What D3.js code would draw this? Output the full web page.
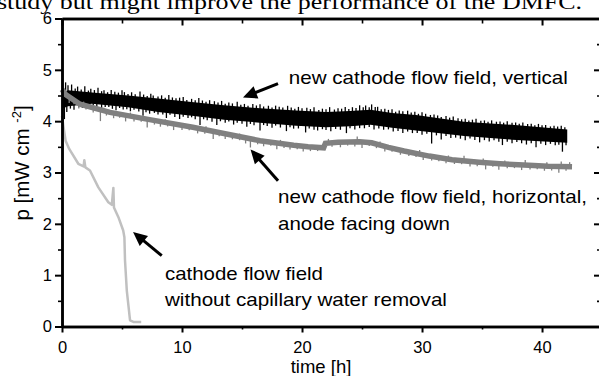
<!DOCTYPE html>
<html>
<head>
<meta charset="utf-8">
<script src="https://cdn.jsdelivr.net/npm/d3@7"></script>
<style>
  body { margin: 0; background: #fff; overflow: hidden; }
  svg { display: block; font-family: Arial, "Liberation Sans", sans-serif; }
</style>
</head>
<body>
<div id="container"></div>
<script>
/* CONSTANTS AND GLOBALS */
const width = 599,
  height = 376,
  margin = {top: 18.5, bottom: 49.5, left: 62, right: -1};

/* DATA */
// x / y ticks
const xTicks = [0, 10, 20, 30, 40],
  xMinor = [5, 15, 25, 35],
  yTicks = [0, 1, 2, 3, 4, 5, 6],
  yMinor = [0.5, 1.5, 2.5, 3.5, 4.5, 5.5];

// new cathode flow field, vertical (black, noisy band): core envelope
const blackT  = [0, 0.5, 2.5, 5.5, 8, 11, 13.5, 16.5, 19.5, 22, 24, 25.7, 27.5, 29.5, 33.5, 37.5, 42.1];
const blackHi = [4.54, 4.6, 4.56, 4.5, 4.44, 4.37, 4.31, 4.25, 4.21, 4.18, 4.2, 4.22, 4.16, 4.12, 3.99, 3.93, 3.84];
const blackLo = [4.24, 4.29, 4.34, 4.27, 4.18, 4.1, 4.03, 3.97, 3.91, 3.88, 3.9, 3.93, 3.87, 3.82, 3.71, 3.64, 3.58];
// noise spikes: [time, excursion beyond the envelope]
const blackUp = [[0.1,.08],[0.3,.18],[0.5,.1],[0.8,.12],[1.1,.05],[1.3,.09],[1.6,.04],[1.9,.11],[2.2,.03],[2.4,.07],
  [2.7,.05],[3.0,.1],[3.3,.04],[3.5,.06],[3.8,.03],[4.1,.08],[4.4,.05],[4.7,.04],[5.0,.09],[5.2,.06],[5.5,.03],
  [5.8,.07],[6.1,.04],[6.5,.1],[6.8,.05],[7.1,.03],[7.4,.08],[7.6,.05],[8.0,.04],[8.3,.07],[8.6,.03],[8.9,.09],
  [9.2,.05],[9.5,.04],[9.8,.06],[10.1,.08],[10.4,.03],[10.8,.06],[11.1,.04],[11.4,.09],[11.7,.05],[12.0,.03],
  [12.3,.07],[12.7,.06],[13.0,.04],[13.3,.08],[13.6,.03],[13.9,.06],[14.2,.05],[14.6,.09],[14.9,.04],[15.2,.06],
  [15.5,.03],[15.9,.07],[16.2,.05],[16.5,.08],[16.8,.04],[17.2,.06],[17.5,.03],[17.8,.07],[18.1,.05],[18.4,.04],
  [18.8,.08],[19.1,.05],[19.4,.03],[19.7,.07],[20.0,.05],[20.4,.06],[20.7,.04],[21.0,.08],[21.4,.03],[21.7,.06],
  [22.0,.05],[22.3,.09],[22.7,.04],[23.0,.06],[23.3,.05],[23.6,.08],[23.9,.04],[24.2,.07],[24.5,.05],[24.8,.1],
  [25.1,.06],[25.3,.09],[25.6,.05],[25.8,.11],[26.1,.07],[26.3,.08],[26.6,.04],[26.9,.06],[27.2,.05],[27.5,.07],
  [27.8,.03],[28.1,.06],[28.4,.05],[28.8,.07],[29.1,.04],[29.4,.06],[29.7,.03],[30.0,.07],[30.3,.05],[30.7,.04],
  [31.0,.06],[31.3,.05],[31.6,.03],[32.0,.06],[32.3,.04],[32.6,.07],[33.0,.05],[33.3,.04],[33.6,.06],[33.9,.03],
  [34.2,.05],[34.5,.07],[34.9,.04],[35.2,.05],[35.5,.03],[35.8,.06],[36.2,.04],[36.5,.05],[36.8,.03],[37.1,.06],
  [37.5,.04],[37.8,.05],[38.1,.03],[38.4,.06],[38.8,.04],[39.1,.05],[39.4,.03],[39.7,.06],[40.0,.04],[40.3,.05],
  [40.7,.03],[41.0,.05],[41.3,.04],[41.6,.06],[41.9,.04]];
const blackDown = [[0.2,.22],[0.4,.1],[0.7,.05],[1.0,.08],[1.4,.04],[1.7,.06],[2.0,.03],[2.3,.07],[2.6,.04],[2.9,.05],
  [3.3,.09],[3.6,.04],[3.9,.03],[4.2,.06],[4.5,.08],[4.8,.03],[5.1,.05],[5.4,.04],[5.7,.07],[6.0,.03],[6.4,.05],
  [6.75,.12],[7.0,.04],[7.3,.06],[7.7,.03],[8.0,.05],[8.4,.04],[8.7,.1],[9.0,.03],[9.4,.06],[9.8,.09],[10.1,.04],
  [10.5,.05],[10.8,.03],[11.1,.06],[11.5,.16],[11.8,.04],[12.1,.05],[12.5,.07],[12.9,.12],[13.2,.04],[13.6,.06],
  [13.9,.03],[14.3,.08],[14.6,.04],[15.0,.05],[15.4,.1],[15.7,.04],[16.0,.06],[16.5,.15],[16.8,.04],[17.1,.05],
  [17.5,.08],[17.8,.03],[18.2,.06],[18.7,.12],[19.0,.04],[19.3,.06],[19.7,.05],[20.3,.12],[20.6,.04],[21.0,.06],
  [21.3,.07],[21.7,.04],[22.0,.05],[22.4,.08],[22.8,.04],[23.2,.06],[23.7,.13],[24.0,.04],[24.4,.07],[24.8,.05],
  [25.2,.06],[25.6,.04],[26.0,.08],[26.4,.05],[26.8,.06],[27.2,.04],[27.6,.07],[28.0,.05],[28.4,.08],[28.8,.04],
  [29.2,.06],[29.6,.05],[30.0,.07],[30.4,.04],[30.8,.22],[31.2,.05],[31.6,.12],[32.0,.04],[32.4,.07],[32.8,.05],
  [33.2,.06],[33.6,.08],[34.0,.04],[34.4,.06],[34.8,.1],[35.2,.05],[35.6,.07],[36.0,.04],[36.4,.06],[36.7,.12],
  [37.1,.05],[37.5,.07],[37.9,.04],[38.3,.06],[38.7,.08],[39.1,.05],[39.5,.12],[39.9,.05],[40.3,.07],[40.7,.04],
  [41.1,.06],[41.4,.05],[41.7,.18],[42.0,.05]];

// new cathode flow field, horizontal, anode facing down (grey)
const grayT = [0, 0.3, 1.5, 4, 7.3, 10.9, 13.7, 16.5, 19.3, 20.5, 21.8, 21.95, 23, 24.8, 25.8, 27.2, 28.5, 30.6, 32.5, 34.75, 36.5, 38.9, 40.5, 42.5];
const grayP = [4.62, 4.52, 4.33, 4.17, 4.03, 3.88, 3.75, 3.62, 3.53, 3.5, 3.48, 3.57, 3.59, 3.6, 3.58, 3.49, 3.42, 3.32, 3.25, 3.2, 3.17, 3.14, 3.12, 3.11];
// noise spikes: [time, excursion from the line]
const grayDown = [[0.6,.12],[1.0,.08],[1.4,.1],[2.0,.07],[2.6,.09],[3.2,.22],[3.7,.08],[4.3,.1],[4.8,.07],[5.3,.12],
  [6.0,.09],[6.6,.07],[7.1,.16],[7.7,.08],[8.2,.1],[8.8,.07],[9.3,.12],[10.0,.09],[10.6,.07],[11.3,.1],[11.9,.08],
  [12.6,.15],[13.1,.07],[13.6,.1],[14.2,.08],[14.8,.07],[15.3,.11],[15.7,.17],[16.3,.08],[16.8,.1],[17.4,.07],
  [17.9,.12],[18.5,.08],[19.0,.09],[19.6,.07],[20.1,.1],[20.7,.08],[21.3,.07],[22.5,.08],[23.2,.1],[23.8,.07],
  [24.4,.09],[25.0,.12],[25.6,.07],[26.2,.08],[26.9,.1],[27.5,.07],[28.2,.09],[28.9,.08],[29.5,.07],[30.1,.1],
  [30.8,.08],[31.4,.07],[32.0,.09],[32.7,.08],[33.3,.07],[34.0,.1],[34.6,.08],[35.3,.13],[35.9,.07],[36.4,.12],
  [37.1,.08],[37.7,.07],[38.3,.1],[39.0,.08],[39.6,.07],[40.2,.09],[40.8,.08],[41.4,.12],[42.0,.08]];
const grayUp = [[0.05,.23],[1.8,.07],[3.5,.06],[5.7,.07],[8.6,.06],[12.0,.07],[14.8,.06],[18.2,.07],[22.2,.08],
  [24.6,.1],[26.5,.07],[29.8,.08],[32.2,.07],[33.5,.1],[35.1,.08],[36.9,.07],[38.6,.1],[40.4,.08],[41.6,.1],[42.3,.09]];

// cathode flow field without capillary water removal (light grey)
const lightT = [0, 0.12, 0.3, 0.6, 1.36, 1.8, 1.86, 1.95, 2.33, 3.03, 3.86, 4.15, 4.28, 4.33, 4.7, 5.1, 5.2, 5.25, 5.4, 5.67, 5.95, 6.6];
const lightP = [4.1, 3.9, 3.62, 3.46, 3.17, 3.12, 3.24, 3.1, 3.04, 2.71, 2.42, 2.37, 2.7, 2.32, 2.13, 1.87, 1.74, 1.29, 0.7, 0.12, 0.09, 0.09];

// annotations (anchor in data units)
const notes = [
  {t: 18.9, p: 4.73, lines: ["new cathode flow field, vertical"], len: [279]},
  {t: 18.0, p: 2.40, lines: ["new cathode flow field, horizontal,", "anode facing down"], len: [309, 172]},
  {t: 8.58, p: 0.91, lines: ["cathode flow field", "without capillary water removal"], len: [158, 282]}
];
const arrows = [
  {from: [18.0, 4.73], to: [15.08, 4.46]},
  {from: [18.0, 2.84], to: [15.71, 3.45]},
  {from: [8.31, 1.38], to: [5.92, 1.84]}
];

/* SCALES */
const xScale = d3.scaleLinear()
  .domain([0, 44.83])
  .range([margin.left, width - margin.right])

const yScale = d3.scaleLinear()
  .domain([0, 6])
  .range([height - margin.bottom, margin.top])

/* HTML ELEMENTS */
const svg = d3.select("#container")
  .append("svg")
  .attr("width", width)
  .attr("height", height)

// text cut off above the figure
svg.append("text")
  .attr("x", -3)
  .attr("y", 8.5)
  .attr("textLength", 585)
  .attr("lengthAdjust", "spacingAndGlyphs")
  .style("font-family", "'Liberation Serif', 'Times New Roman', serif")
  .style("font-size", "22px")
  .text("study but might improve the performance of the DMFC.")

// black band
const blackHiS = d3.scaleLinear().domain(blackT).range(blackHi),
  blackLoS = d3.scaleLinear().domain(blackT).range(blackLo)

svg.append("path")
  .datum(blackT.map((t, i) => [t, blackLo[i], blackHi[i]]))
  .attr("fill", "#000")
  .attr("d", d3.area()
    .x(d => xScale(d[0]))
    .y0(d => yScale(d[1]))
    .y1(d => yScale(d[2])))

const spikes = (data, base, sign, color, w) => svg.append("g")
  .selectAll("line")
  .data(data)
  .join("line")
  .attr("x1", d => xScale(d[0]))
  .attr("x2", d => xScale(d[0]))
  .attr("y1", d => yScale(base(d[0])) + sign)
  .attr("y2", d => yScale(base(d[0]) + sign * d[1]))
  .attr("stroke", color)
  .attr("stroke-width", w)

spikes(blackUp, blackHiS, 1, "#000", 1.3)
spikes(blackDown, blackLoS, -1, "#000", 1.3)

// grey line
const grayS = d3.scaleLinear().domain(grayT).range(grayP)

spikes(grayUp, grayS, 1, "#808080", 1.3)
spikes(grayDown, grayS, -1, "#808080", 1.3)

svg.append("path")
  .datum(grayT.map((t, i) => [t, grayP[i]]))
  .attr("fill", "none")
  .attr("stroke", "#808080")
  .attr("stroke-width", 5.5)
  .attr("d", d3.line().x(d => xScale(d[0])).y(d => yScale(d[1])))

// light grey line
svg.append("path")
  .datum(lightT.map((t, i) => [t, lightP[i]]))
  .attr("fill", "none")
  .attr("stroke", "#c0c0c0")
  .attr("stroke-width", 2.5)
  .attr("stroke-linejoin", "round")
  .attr("d", d3.line().x(d => xScale(d[0])).y(d => yScale(d[1])))

/* AXES */
const fmt = d3.format("d")
const axes = [
  [d3.axisBottom(xScale).tickValues(xTicks).tickSizeInner(6).tickPadding(9).tickFormat(fmt), `translate(0,${yScale(0)})`, 2],
  [d3.axisBottom(xScale).tickValues(xMinor).tickSizeInner(3).tickFormat(""), `translate(0,${yScale(0)})`, 1.6],
  [d3.axisLeft(yScale).tickValues(yTicks).tickSizeInner(7).tickPadding(3).tickFormat(fmt), `translate(${xScale(0)},0)`, 2],
  [d3.axisLeft(yScale).tickValues(yMinor).tickSizeInner(4).tickFormat(""), `translate(${xScale(0)},0)`, 1.6],
  [d3.axisTop(xScale).tickValues(xTicks).tickSizeInner(-7).tickFormat(""), `translate(0,${yScale(6)})`, 2],
  [d3.axisTop(xScale).tickValues(xMinor).tickSizeInner(-5).tickFormat(""), `translate(0,${yScale(6)})`, 1.6],
  [d3.axisRight(yScale).tickValues(yTicks).tickSizeInner(-6).tickFormat(""), `translate(${xScale(44.83)},0)`, 2],
  [d3.axisRight(yScale).tickValues(yMinor).tickSizeInner(-3).tickFormat(""), `translate(${xScale(44.83)},0)`, 1.6]
]

axes.forEach(([ax, tr, sw]) => {
  const g = svg.append("g")
    .attr("transform", tr)
    .call(ax.tickSizeOuter(0))
  g.select(".domain").attr("stroke", "#000").attr("stroke-width", 2.5)
  g.selectAll(".tick line").attr("stroke", "#000").attr("stroke-width", sw)
  g.selectAll(".tick text")
    .attr("fill", "#000")
    .style("font-size", "16.5px")
    .style("font-family", "Arial, 'Liberation Sans', sans-serif")
})

// axis titles
svg.append("text")
  .attr("x", 321)
  .attr("y", 373)
  .attr("text-anchor", "middle")
  .style("font-size", "18.5px")
  .text("time [h]")

const yt = svg.append("text")
  .attr("transform", "translate(29,163) rotate(-90)")
  .attr("text-anchor", "middle")
  .style("font-size", "20.5px")
yt.append("tspan").text("p [mW cm ")
yt.append("tspan").attr("dy", -8).style("font-size", "13px").text("-2")
yt.append("tspan").attr("dy", 8).text("]")

/* ANNOTATIONS */
notes.forEach(n => {
  n.lines.forEach((l, i) => {
    svg.append("text")
      .attr("x", xScale(n.t))
      .attr("y", yScale(n.p) + i * 26.5)
      .attr("textLength", n.len[i])
      .attr("lengthAdjust", "spacingAndGlyphs")
      .style("font-size", "19px")
      .text(l)
  })
})

arrows.forEach(a => {
  const x0 = xScale(a.from[0]), y0 = yScale(a.from[1]),
    x1 = xScale(a.to[0]), y1 = yScale(a.to[1])
  const L = Math.hypot(x1 - x0, y1 - y0),
    ux = (x1 - x0) / L, uy = (y1 - y0) / L,
    head = 14, half = 6.5
  const bx = x1 - ux * head, by = y1 - uy * head
  svg.append("line")
    .attr("x1", x0).attr("y1", y0)
    .attr("x2", bx + ux * 2).attr("y2", by + uy * 2)
    .attr("stroke", "#000")
    .attr("stroke-width", 3)
  svg.append("path")
    .attr("d", `M${x1},${y1}L${bx - uy * half},${by + ux * half}L${bx + uy * half},${by - ux * half}Z`)
    .attr("fill", "#000")
})
</script>
</body>
</html>
